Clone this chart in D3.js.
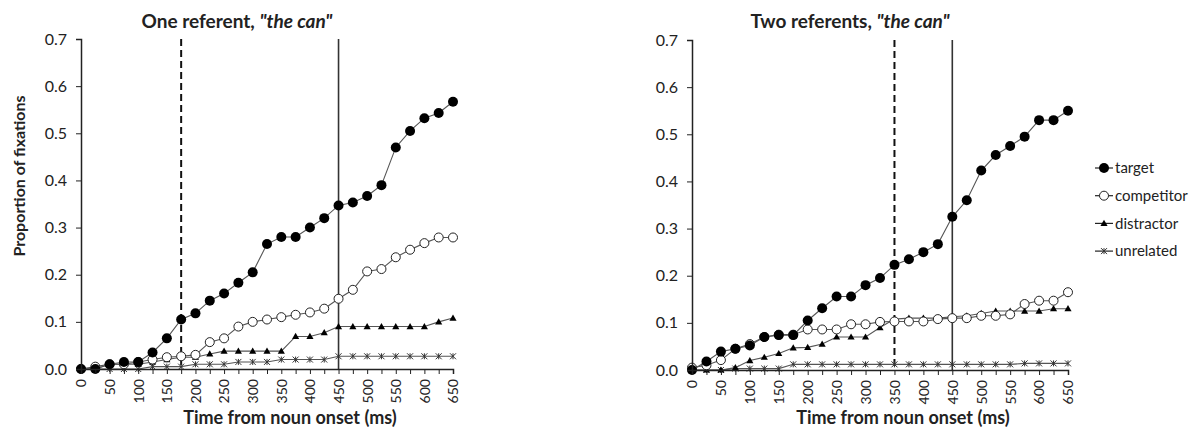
<!DOCTYPE html>
<html lang="en">
<head>
<meta charset="UTF-8">
<title>Proportion of fixations</title>
<script src="https://cdn.jsdelivr.net/npm/d3@7"></script>
<style>
  body { margin: 0; background: #fff; }
  text { font-family: Lato, "Open Sans", sans-serif; fill: #222; }
</style>
</head>
<body>
<div id="container"></div>
<script>
const times = d3.range(0, 651, 25);
const yTicks = [0, 0.1, 0.2, 0.3, 0.4, 0.5, 0.6, 0.7];
const seriesNames = ["target", "competitor", "distractor", "unrelated"];

// one referent
const oneTarget = [0, 0, 0.01, 0.015, 0.015, 0.035, 0.065, 0.105, 0.118, 0.145, 0.16, 0.183, 0.205, 0.265, 0.28, 0.28, 0.30, 0.32, 0.347, 0.353, 0.367, 0.39, 0.47, 0.505, 0.532, 0.543, 0.567];
const oneCompetitor = [0, 0.005, 0.01, 0.01, 0.015, 0.02, 0.025, 0.027, 0.03, 0.057, 0.065, 0.09, 0.1, 0.105, 0.11, 0.115, 0.12, 0.128, 0.149, 0.168, 0.207, 0.212, 0.237, 0.253, 0.267, 0.279, 0.279];
const oneDistractor = [0, 0, 0.01, 0.01, 0.01, 0.015, 0.02, 0.025, 0.025, 0.032, 0.038, 0.038, 0.038, 0.038, 0.038, 0.069, 0.069, 0.077, 0.09, 0.09, 0.09, 0.09, 0.09, 0.09, 0.09, 0.1, 0.108];
const oneUnrelated = [0, 0, 0, 0, 0, 0.005, 0.005, 0.005, 0.01, 0.01, 0.01, 0.015, 0.015, 0.015, 0.02, 0.02, 0.02, 0.02, 0.027, 0.027, 0.027, 0.027, 0.027, 0.027, 0.027, 0.027, 0.027];

// two referents
const twoTarget = [0, 0.018, 0.039, 0.045, 0.052, 0.07, 0.074, 0.074, 0.105, 0.131, 0.156, 0.156, 0.18, 0.195, 0.223, 0.235, 0.25, 0.267, 0.325, 0.36, 0.423, 0.456, 0.475, 0.495, 0.53, 0.53, 0.55];
const twoCompetitor = [0.005, 0.01, 0.021, 0.045, 0.055, 0.07, 0.075, 0.075, 0.086, 0.086, 0.086, 0.097, 0.097, 0.102, 0.103, 0.103, 0.103, 0.108, 0.11, 0.11, 0.115, 0.115, 0.118, 0.14, 0.147, 0.147, 0.165];
const twoDistractor = [0, 0, 0, 0.005, 0.02, 0.027, 0.035, 0.047, 0.048, 0.055, 0.07, 0.07, 0.07, 0.09, 0.108, 0.11, 0.11, 0.11, 0.113, 0.115, 0.12, 0.125, 0.125, 0.125, 0.125, 0.13, 0.13];
const twoUnrelated = [0, 0, 0, 0.003, 0.003, 0.003, 0.003, 0.012, 0.012, 0.012, 0.012, 0.012, 0.012, 0.012, 0.012, 0.012, 0.012, 0.012, 0.012, 0.012, 0.012, 0.012, 0.012, 0.014, 0.014, 0.014, 0.014];

const panels = [
  { title: "One referent, ", left: 81, right: 453, top: 39, bottom: 369, cue: 175, onset: 450, yLabel: true,
    series: [oneTarget, oneCompetitor, oneDistractor, oneUnrelated] },
  { title: "Two referents, ", left: 692, right: 1068, top: 40, bottom: 370, cue: 350, onset: 450, yLabel: false,
    series: [twoTarget, twoCompetitor, twoDistractor, twoUnrelated] }
];

const width = 1202, height = 437;
const svg = d3.select("#container").append("svg")
    .attr("width", width).attr("height", height);

const lineColor = "#555";

// star marker: x with a vertical bar
function starPath(s) {
  return `M${-s},${-s}L${s},${s}M${-s},${s}L${s},${-s}M0,${-s}L0,${s}`;
}

function drawMarker(g, kind, x, y) {
  if (kind === 0) {
    g.append("circle").attr("cx", x).attr("cy", y).attr("r", 5).attr("fill", "#000");
  } else if (kind === 1) {
    g.append("circle").attr("cx", x).attr("cy", y).attr("r", 4.5)
      .attr("fill", "#fff").attr("stroke", "#222").attr("stroke-width", 1);
  } else if (kind === 2) {
    g.append("path").attr("transform", `translate(${x},${y + 0.5})`)
      .attr("d", d3.symbol(d3.symbolTriangle, 22)()).attr("fill", "#000");
  } else {
    g.append("path").attr("transform", `translate(${x},${y})`)
      .attr("d", starPath(3)).attr("stroke", "#333").attr("stroke-width", 1).attr("fill", "none");
  }
}

panels.forEach(p => {
  const x = d3.scaleLinear().domain([0, 650]).range([p.left, p.right]);
  const y = d3.scaleLinear().domain([0, 0.7]).range([p.bottom, p.top]);
  const g = svg.append("g");

  // vertical reference lines
  g.append("line")
    .attr("x1", x(p.cue)).attr("x2", x(p.cue))
    .attr("y1", y(0.7)).attr("y2", y(0))
    .attr("stroke", "#111").attr("stroke-width", 2).attr("stroke-dasharray", "7,4");
  g.append("line")
    .attr("x1", x(p.onset)).attr("x2", x(p.onset))
    .attr("y1", y(0.7)).attr("y2", y(0))
    .attr("stroke", "#333").attr("stroke-width", 1.6);

  // series, drawn back to front
  const line = d3.line().x((d, i) => x(times[i])).y(d => y(d));
  [3, 2, 1, 0].forEach(k => {
    g.append("path").datum(p.series[k])
      .attr("d", line).attr("fill", "none")
      .attr("stroke", lineColor).attr("stroke-width", 1.1);
    const mg = g.append("g");
    p.series[k].forEach((v, i) => drawMarker(mg, k, x(times[i]), y(v)));
  });

  // axes
  const xAxis = g.append("g")
    .attr("transform", `translate(0,${p.bottom})`)
    .call(d3.axisBottom(x).tickValues(times).tickSize(5)
      .tickFormat(d => d % 50 === 0 ? d : ""));
  xAxis.select(".domain").attr("stroke", "#222").attr("stroke-width", 1.5);
  xAxis.selectAll(".tick line").attr("stroke", "#222");
  xAxis.selectAll("text")
    .attr("transform", "rotate(-90)")
    .attr("x", -10).attr("y", 0).attr("dy", "0.35em")
    .style("text-anchor", "end")
    .style("font-size", "14px").style("font-family", "Lato, sans-serif").attr("fill", "#333");

  const yAxis = g.append("g")
    .attr("transform", `translate(${p.left},0)`)
    .call(d3.axisLeft(y).tickValues(yTicks).tickSize(5).tickPadding(9).tickFormat(d3.format(".1f")));
  yAxis.select(".domain").attr("stroke", "#222").attr("stroke-width", 1.5);
  yAxis.selectAll(".tick line").attr("stroke", "#222");
  yAxis.selectAll("text")
    .style("font-size", "16px").style("font-family", "Lato, sans-serif").attr("fill", "#333");

  // title
  const t = svg.append("text")
    .attr("x", (p.left + p.right) / 2 - 30).attr("y", 28)
    .attr("text-anchor", "middle")
    .style("font-size", "19px").style("font-weight", "bold");
  t.append("tspan").text(p.title);
  t.append("tspan").style("font-style", "italic").text("\"the can\"");

  svg.append("text")
    .attr("x", (p.left + p.right) / 2 + 23).attr("y", 424)
    .attr("text-anchor", "middle")
    .style("font-size", "18px").style("font-weight", "bold")
    .text("Time from noun onset (ms)");

  if (p.yLabel) {
    svg.append("text")
      .attr("transform", `translate(25,176) rotate(-90)`)
      .attr("text-anchor", "middle")
      .style("font-size", "16px").style("font-weight", "bold")
      .text("Proportion of fixations");
  }
});

// legend
const legend = svg.append("g");
seriesNames.forEach((name, k) => {
  const ly = 168 + k * 27.7;
  legend.append("line")
    .attr("x1", 1095).attr("x2", 1113).attr("y1", ly).attr("y2", ly)
    .attr("stroke", "#222").attr("stroke-width", 1.2);
  drawMarker(legend, k, 1104, ly);
  legend.append("text")
    .attr("x", 1115).attr("y", ly).attr("dy", "0.35em")
    .style("font-size", "15px").attr("fill", "#333")
    .text(name);
});
</script>
</body>
</html>
